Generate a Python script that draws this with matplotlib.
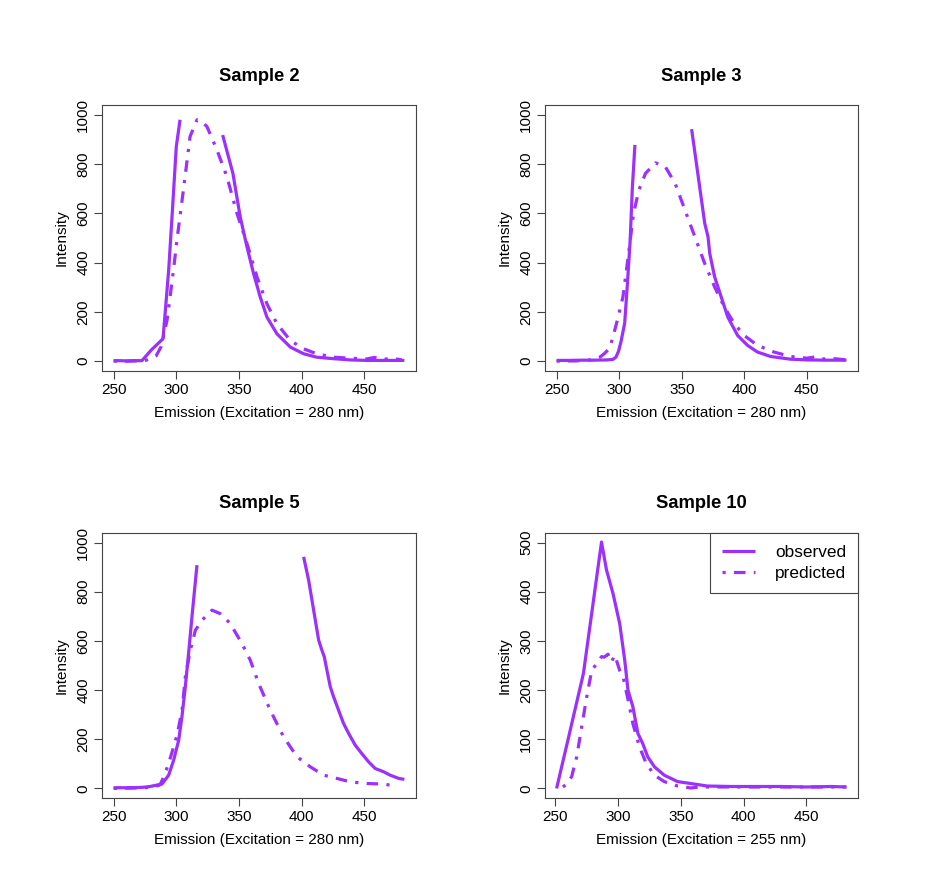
import numpy as np
import matplotlib
matplotlib.use("Agg")
import matplotlib.pyplot as plt

plt.rcParams['font.family'] = ['Liberation Sans', 'DejaVu Sans']

nan = np.nan

# ---------------- data ----------------
titles = ["Sample 2", "Sample 3", "Sample 5", "Sample 10"]
xlabels = ["Emission (Excitation = 280 nm)", "Emission (Excitation = 280 nm)",
           "Emission (Excitation = 280 nm)", "Emission (Excitation = 255 nm)"]
ylims = [(0, 1000), (0, 1000), (0, 1000), (0, 500)]
yticks_list = [[0, 200, 400, 600, 800, 1000]] * 3 + [[0, 100, 200, 300, 400, 500]]
xticks = [250, 300, 350, 400, 450]

# Sample 2
s2_obs_x = [250, 255, 260, 265, 272.6, 280, 289.4, 292, 294, 297, 300, 303, 320,
            337, 345.2, 351, 356.4, 361.7, 367, 372.3, 380.3, 391, 401.6, 412, 425.5,
            438.8, 452, 465, 482]
s2_obs_y = [2, 2, 1, 2, 2, 45, 91, 250, 375, 620, 871, 980, nan,
            918, 762, 586, 464, 355, 260, 179, 111, 57, 30, 16, 10,
            5, 3, 3, 3]
s2_pred_x = [250, 260, 270, 276, 280, 284, 288, 292.6, 295.4, 298, 300.5, 306, 311,
             316.5, 320, 324.5, 332.4, 340.4, 348.4, 356.4, 364.4, 372.3, 380.3,
             391, 401.6, 412, 425.5, 438.8, 452, 458, 465, 472, 480]
s2_pred_y = [0, 0, 1, 4, 12, 22, 60, 166, 275, 380, 491, 708, 912,
             980, 975, 952, 858, 749, 600, 478, 342, 233, 152,
             84, 50, 30, 16, 12, 9, 15, 7, 12, 5]

# Sample 3
s3_obs_x = [250, 260, 270, 280, 290, 295, 297.4, 299.5, 301.5, 304.4, 306.6, 308.8,
            310.5, 312.6, 330, 357.9, 363.2, 368.4, 371, 372.4, 376.3, 381.6, 386.8,
            394.7, 402.6, 410.5, 421, 436.8, 450, 465, 481.6]
s3_obs_y = [3, 3, 4, 4, 5, 7, 16, 40, 80, 154, 315, 491,
            700, 878, nan, 942, 749, 559, 505, 437, 342, 260, 179,
            104, 64, 37, 19, 8, 5, 4, 4]
s3_pred_x = [250, 265, 278, 284.5, 288, 292.4, 295, 298.2, 303, 306.6, 311.5, 315.8,
             321, 329, 336.8, 344.7, 352.6, 360.5, 368.4, 376.3, 384, 392, 400,
             410.5, 423.7, 436.8, 450, 458, 463, 472, 481.6]
s3_pred_y = [0, 1, 5, 16, 30, 52, 98, 159, 260, 400, 600, 695,
             762, 805, 790, 722, 613, 505, 396, 301, 220, 152, 104,
             64, 37, 19, 12, 18, 9, 10, 5]

# Sample 5
s5_obs_x = [250, 260, 270, 274, 279, 288.6, 293.9, 297.9, 301.9, 304.5, 307.2, 309.8,
            312.5, 316.5, 360, 401.6, 405.6, 409.6, 413.6, 416.2, 418.1, 420.2, 422.9,
            425.5, 429.5, 433.5, 437.5, 442.8, 448, 453.5, 458.8, 465.4, 470.7, 477.4,
            482]
s5_obs_y = [3, 3, 4, 5, 8, 18, 54, 115, 196, 291, 413, 549,
            698, 908, nan, 942, 847, 725, 603, 562, 535, 481, 413,
            373, 318, 264, 224, 176, 142, 108, 81, 68, 54, 41,
            37]
s5_pred_x = [250, 270, 282, 287, 290, 294, 297.9, 300.6, 304.6, 307.2, 311.2, 315.2,
             320.5, 328.5, 335, 343, 352.4, 359, 365.7, 375, 385.6, 396.3, 406.9,
             417.6, 428, 438.8, 452, 465.4, 476]
s5_pred_y = [0, 2, 5, 15, 47, 103, 170, 217, 318, 454, 562, 643,
             684, 725, 711, 671, 589, 522, 427, 318, 210, 129, 88,
             54, 41, 27, 20, 18, 9]

# Sample 10
s10_obs_x = [251, 260, 272.4, 286.8, 290.8, 296, 301.3, 305.3, 307.9, 311.8, 315.8,
             319.7, 323.7, 329, 336.8, 347.4, 358, 371, 390, 410, 430, 450, 470, 482]
s10_obs_y = [0, 98, 234, 501, 444, 396, 335, 261, 200, 166, 112,
             91, 64, 44, 27, 14, 10, 5, 4, 4, 4, 3, 4, 3]
s10_pred_x = [256, 259, 263, 267, 271, 275, 279, 283, 286.8, 289, 292, 294.7, 297.4,
              301.3, 304, 308, 311.8, 317, 322.4, 329, 336.8, 347.4, 358, 365, 380,
              400, 420, 440, 460, 482]
s10_pred_y = [3, 9, 24, 64, 125, 186, 240, 254, 268, 267, 273, 257, 271,
              240, 227, 180, 132, 85, 51, 27, 14, 5, 1, 3, 3,
              3, 3, 3, 3, 3]

obs = [(s2_obs_x, s2_obs_y), (s3_obs_x, s3_obs_y), (s5_obs_x, s5_obs_y), (s10_obs_x, s10_obs_y)]
pred = [(s2_pred_x, s2_pred_y), (s3_pred_x, s3_pred_y), (s5_pred_x, s5_pred_y), (s10_pred_x, s10_pred_y)]

# ---------------- plotting ----------------
W, H = 938, 885
fig = plt.figure(figsize=(W / 100, H / 100), dpi=100)

col = '#9B30FF'
boxc = '#444444'
lw = 2.3
dash = (0, (1.0, 2.6, 3.6, 2.6))

boxes = [(102, 416, 105, 371), (545, 858, 105, 371),
         (102, 416, 532.7, 798.3), (545, 858, 532.7, 798.3)]

for i in range(4):
    l, r, t, b = boxes[i]
    ax = fig.add_axes([l / W, 1 - b / H, (r - l) / W, (b - t) / H])
    ox, oy = obs[i]
    px, py = pred[i]
    ax.plot(ox, oy, color=col, lw=lw, solid_capstyle='butt', solid_joinstyle='round',
            label='observed')
    ax.plot(px, py, color=col, lw=lw, linestyle=dash, dash_capstyle='butt',
            label='predicted')
    allx = np.array(list(ox) + list(px), dtype=float)
    x0, x1 = np.nanmin(allx), np.nanmax(allx)
    pad = 0.04 * (x1 - x0)
    ax.set_xlim(x0 - pad, x1 + pad)
    y0, y1 = ylims[i]
    ypad = 0.04 * (y1 - y0)
    ax.set_ylim(y0 - ypad, y1 + ypad)
    ax.set_xticks(xticks)
    ax.set_yticks(yticks_list[i])
    ax.set_yticklabels([str(v) for v in yticks_list[i]], rotation=90, va='center')
    ax.tick_params(direction='out', length=5.5, width=0.8, color=boxc,
                   labelsize=11, pad=3)
    for s in ax.spines.values():
        s.set_color(boxc)
        s.set_linewidth(0.8)
    ax.set_title(titles[i], fontsize=13.2, fontweight='bold', pad=17.5)
    ax.set_xlabel(xlabels[i], fontsize=11, va='center')
    ax.set_ylabel('Intensity', fontsize=11, va='center')
    ax.xaxis.set_label_coords(0.5, -42.0 / (b - t))
    ax.yaxis.set_label_coords(-40.0 / (r - l), 0.5)
    if i == 3:
        leg = ax.legend(loc='upper right', borderaxespad=0, fancybox=False,
                        edgecolor=boxc, fontsize=12.4, handlelength=1.9,
                        handletextpad=1.15, borderpad=0.7, labelspacing=0.35,
                        framealpha=1)
        leg.get_frame().set_linewidth(0.8)

fig.savefig('out.png', dpi=100)
